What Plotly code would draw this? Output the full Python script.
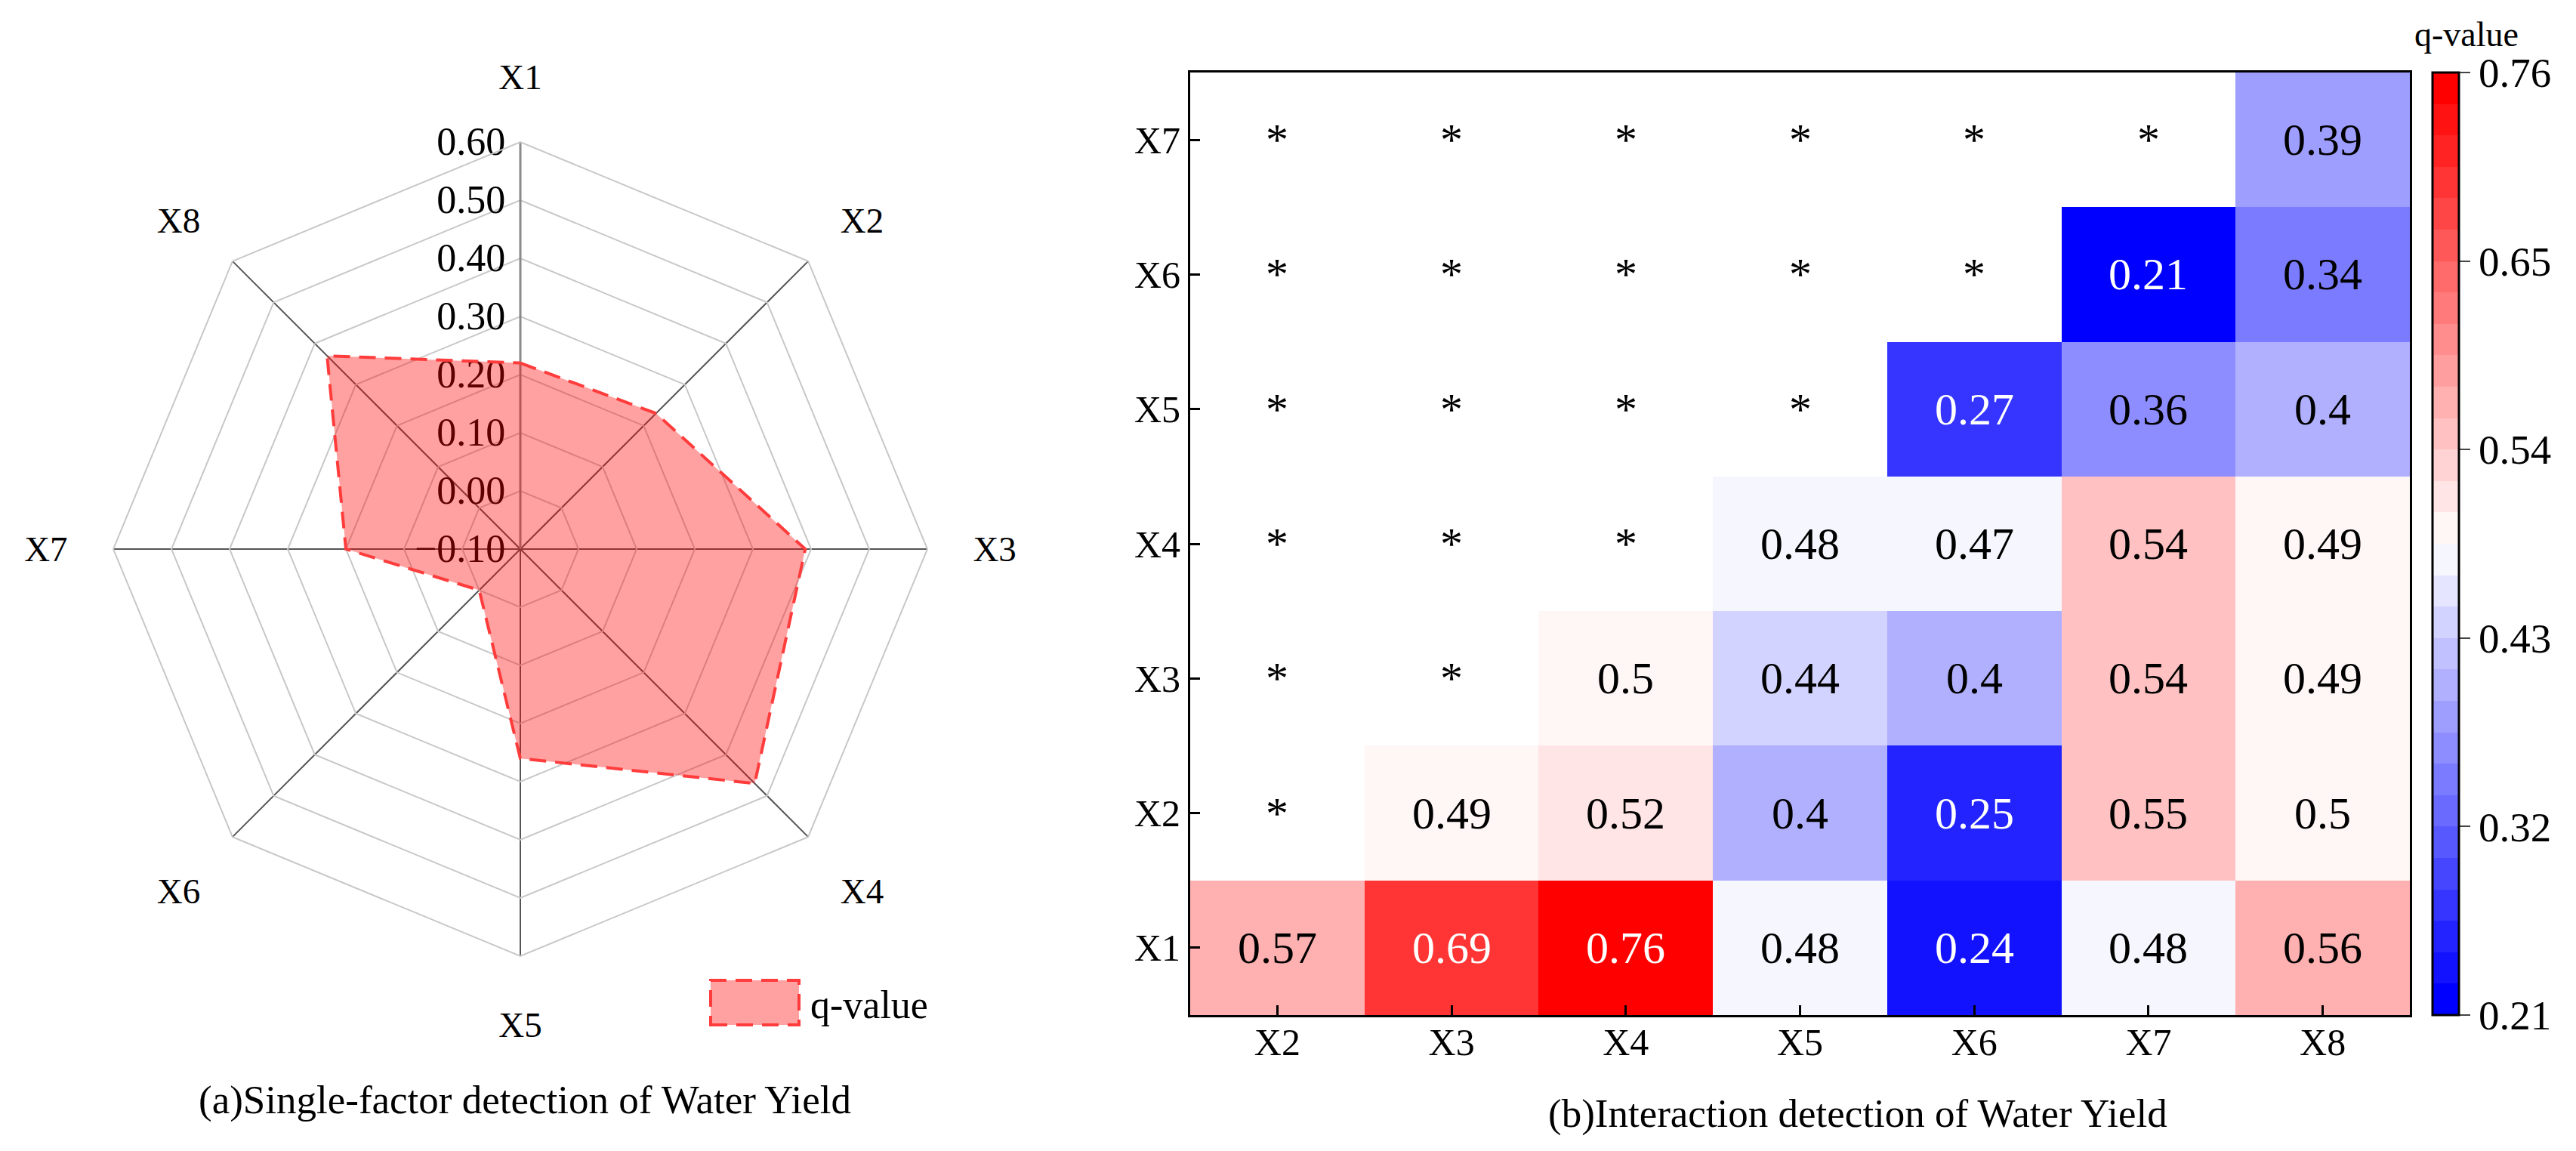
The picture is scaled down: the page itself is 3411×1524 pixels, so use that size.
import plotly.graph_objects as go

# (a) single-factor detection, q-value per factor
factors = ["X1", "X2", "X3", "X4", "X5", "X6", "X7", "X8"]
q_single = [0.22, 0.23, 0.39, 0.47, 0.26, 0.00, 0.20, 0.37]
radial_ticks = [-0.10, 0.00, 0.10, 0.20, 0.30, 0.40, 0.50, 0.60]

# (b) interaction detection, rows X1..X7 (bottom to top), columns X2..X8
col_labels = ["X2", "X3", "X4", "X5", "X6", "X7", "X8"]
row_labels = ["X1", "X2", "X3", "X4", "X5", "X6", "X7"]
row_x1 = [0.57, 0.69, 0.76, 0.48, 0.24, 0.48, 0.56]
row_x2 = [None, 0.49, 0.52, 0.40, 0.25, 0.55, 0.50]
row_x3 = [None, None, 0.50, 0.44, 0.40, 0.54, 0.49]
row_x4 = [None, None, None, 0.48, 0.47, 0.54, 0.49]
row_x5 = [None, None, None, None, 0.27, 0.36, 0.40]
row_x6 = [None, None, None, None, None, 0.21, 0.34]
row_x7 = [None, None, None, None, None, None, 0.39]
q_matrix = [row_x1, row_x2, row_x3, row_x4, row_x5, row_x6, row_x7]
cbar_ticks = [0.21, 0.32, 0.43, 0.54, 0.65, 0.76]

FONT = "Liberation Serif"
W, H = 3411, 1524
FILL = "rgba(255,0,0,0.37)"
EDGE = "rgb(255,60,60)"


def bwr(t):
    # matplotlib-like blue-white-red
    if t <= 0.5:
        k = t / 0.5
        return f"rgb({round(255 * k)},{round(255 * k)},255)"
    k = (1 - t) / 0.5
    return f"rgb(255,{round(255 * k)},{round(255 * k)})"


# stepped colour scale, like the banded colorbar of the original
n_steps = 30
colorscale = []
for i in range(n_steps):
    c = bwr(i / (n_steps - 1))
    colorscale.append([i / n_steps, c])
    colorscale.append([(i + 1) / n_steps, c])

fig = go.Figure()

fig.add_trace(
    go.Scatterpolar(
        r=q_single + q_single[:1],
        theta=factors + factors[:1],
        mode="lines",
        fill="toself",
        fillcolor=FILL,
        line=dict(color=EDGE, width=4, dash="22px,12px"),
        name="q-value",
    )
)

fig.add_trace(
    go.Heatmap(
        z=q_matrix,
        x=col_labels,
        y=row_labels,
        zmin=0.21,
        zmax=0.76,
        colorscale=colorscale,
        hoverongaps=False,
        showscale=True,
        colorbar=dict(
            x=3213 / W,
            xanchor="left",
            xpad=0,
            y=188 / H,
            yanchor="bottom",
            ypad=0,
            len=(1336 - 88) / H,
            lenmode="fraction",
            thickness=35,
            outlinecolor="black",
            outlinewidth=3,
            tickvals=cbar_ticks,
            tickformat=".2f",
            ticks="outside",
            ticklen=14,
            tickwidth=2,
            tickfont=dict(family=FONT, size=55, color="black"),
        ),
        xaxis="x",
        yaxis="y",
    )
)

# cell labels
annotations = []
for ri, row in enumerate(q_matrix):
    for ci, v in enumerate(row):
        if v is None:
            txt, col = "*", "black"
        else:
            txt = f"{v:g}"
            col = "white" if (v < 0.30 or v > 0.62) else "black"
        annotations.append(
            dict(
                x=col_labels[ci],
                y=row_labels[ri],
                xref="x",
                yref="y",
                text=txt,
                showarrow=False,
                font=dict(family=FONT, size=60, color=col),
            )
        )

annotations += [
    dict(
        x=687 / W, y=(H - 1448) / H, xref="paper", yref="paper",
        xanchor="center", yanchor="middle",
        text="(a)Single-factor detection of Water Yield", showarrow=False,
        font=dict(family=FONT, size=53, color="black"),
    ),
    dict(
        x=2452 / W, y=(H - 1466) / H, xref="paper", yref="paper",
        xanchor="center", yanchor="middle",
        text="(b)Interaction detection of Water Yield", showarrow=False,
        font=dict(family=FONT, size=53, color="black"),
    ),
    # colorbar title
    dict(
        x=3258 / W, y=(H - 38) / H, xref="paper", yref="paper",
        xanchor="center", yanchor="middle",
        text="q-value", showarrow=False,
        font=dict(family=FONT, size=46, color="black"),
    ),
    # legend label of the radar
    dict(
        x=1063 / W, y=(H - 1322) / H, xref="paper", yref="paper",
        xanchor="left", yanchor="middle",
        text="q-value", showarrow=False,
        font=dict(family=FONT, size=52, color="black"),
    ),
]

# legend swatch of the radar (filled box with dashed edge)
shapes = [
    dict(
        type="rect", xref="paper", yref="paper",
        x0=933 / W, x1=1050 / W, y0=(H - 1349) / H, y1=(H - 1290) / H,
        fillcolor=FILL, line=dict(color=EDGE, width=4, dash="22px,12px"),
    )
]

fig.update_layout(
    width=W,
    height=H,
    margin=dict(l=0, r=0, t=0, b=0),
    paper_bgcolor="white",
    plot_bgcolor="white",
    showlegend=False,
    font=dict(family=FONT, color="black"),
    polar=dict(
        domain=dict(x=[142 / W, 1220 / W], y=[266 / H, 1344 / H]),
        gridshape="linear",
        bgcolor="white",
        angularaxis=dict(
            direction="clockwise",
            rotation=90,
            showline=True,
            linecolor="#c8c8c8",
            linewidth=2,
            gridcolor="#555555",
            gridwidth=2,
            ticks="outside",
            ticklen=50,
            tickcolor="rgba(0,0,0,0)",
            tickfont=dict(family=FONT, size=47, color="black"),
        ),
        radialaxis=dict(
            range=[-0.1, 0.6],
            tickvals=radial_ticks,
            tickformat=".2f",
            angle=90,
            tickangle=90,
            side="counterclockwise",
            showline=True,
            linecolor="#8a8a8a",
            linewidth=3,
            gridcolor="#c8c8c8",
            gridwidth=2,
            ticks="",
            layer="below traces",
            tickfont=dict(family=FONT, size=52, color="black"),
        ),
    ),
    xaxis=dict(
        domain=[1568 / W, 3183 / W],
        type="category",
        showline=True,
        mirror=True,
        linecolor="black",
        linewidth=3,
        ticks="inside",
        ticklen=13,
        tickwidth=3,
        tickcolor="black",
        showgrid=False,
        zeroline=False,
        tickfont=dict(family=FONT, size=50),
        ticklabelstandoff=-10,
    ),
    yaxis=dict(
        domain=[188 / H, 1436 / H],
        type="category",
        showline=True,
        mirror=True,
        linecolor="black",
        linewidth=3,
        ticks="inside",
        ticklen=13,
        tickwidth=3,
        tickcolor="black",
        showgrid=False,
        zeroline=False,
        tickfont=dict(family=FONT, size=50),
        ticklabelstandoff=0,
    ),
    shapes=shapes,
    annotations=annotations,
)

fig.write_html("out.html")
